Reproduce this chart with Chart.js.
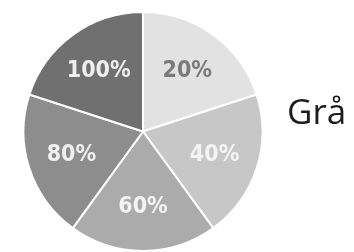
<!DOCTYPE html>
<html>
<head>
<meta charset="utf-8">
<script src="https://cdn.jsdelivr.net/npm/chart.js@4/dist/chart.umd.min.js"></script>
<style>
  html, body { margin: 0; padding: 0; background: #fff; }
  #wrap { position: relative; width: 354px; height: 252px; }
  #legend {
    position: absolute; left: 287px; top: 87px;
    font-family: "Open Sans", sans-serif; font-size: 35px; color: #1c1c1c;
  }
</style>
</head>
<body>
<div id="wrap">
  <canvas id="c" width="354" height="252"></canvas>
  <div id="legend">Grå</div>
</div>
<script>
const labels = ["20%", "40%", "60%", "80%", "100%"];
const values = [1, 1, 1, 1, 1];
const colors = ["#e2e2e2", "#c7c7c7", "#ababab", "#8d8d8d", "#707070"];
const labelColors = ["#7a7a7a", "#f4f4f4", "#f4f4f4", "#f0f0f0", "#f0f0f0"];

// draws the percentage inside each slice
const sliceLabels = {
  id: "sliceLabels",
  afterDatasetsDraw(chart) {
    const ctx = chart.ctx;
    const meta = chart.getDatasetMeta(0);
    ctx.save();
    ctx.font = "bold 23px 'DejaVu Sans Condensed', sans-serif";
    ctx.textAlign = "center";
    ctx.textBaseline = "middle";
    meta.data.forEach((arc, i) => {
      const mid = (arc.startAngle + arc.endAngle) / 2;
      const r = arc.outerRadius * 0.63;
      ctx.fillStyle = labelColors[i];
      ctx.fillText(labels[i], arc.x + Math.cos(mid) * r, arc.y + Math.sin(mid) * r);
    });
    ctx.restore();
  }
};

new Chart(document.getElementById("c"), {
  type: "pie",
  data: {
    labels: labels,
    datasets: [{
      data: values,
      backgroundColor: colors,
      borderColor: "#ffffff",
      borderWidth: 2
    }]
  },
  options: {
    responsive: false,
    animation: false,
    layout: { padding: { left: 22, right: 90, top: 11, bottom: 0 } },
    plugins: {
      legend: { display: false },
      tooltip: { enabled: false }
    }
  },
  plugins: [sliceLabels]
});
</script>
</body>
</html>
